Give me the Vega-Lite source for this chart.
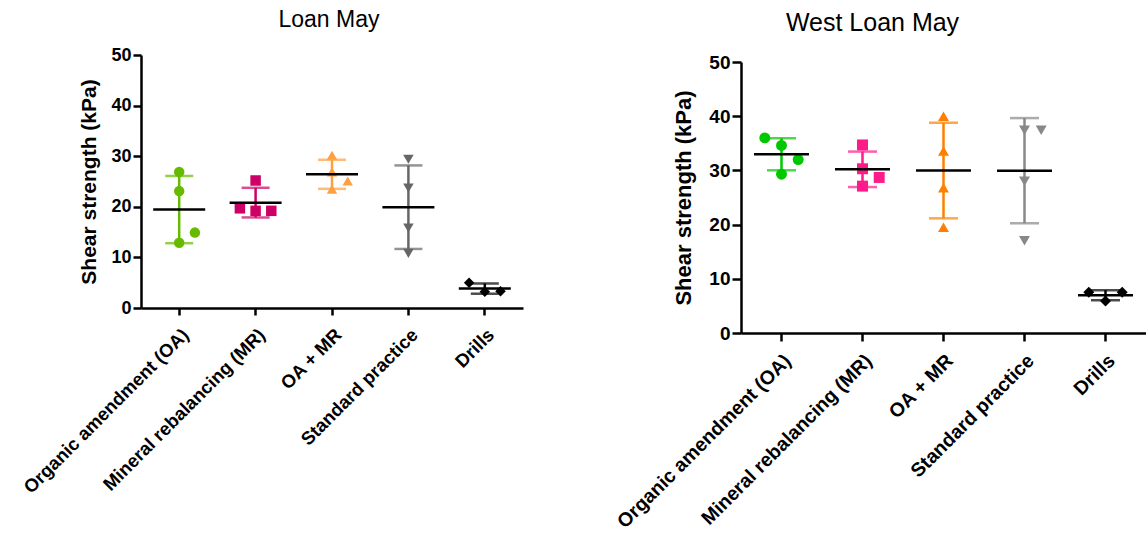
{
  "$schema": "https://vega.github.io/schema/vega-lite/v6.json",
  "background": "white",
  "padding": {"left": 20, "top": 9, "right": 0, "bottom": 0},
  "spacing": 90,
  "resolve": {"scale": {"color": "independent", "xOffset": "independent"}},
  "config": {
    "font": "Liberation Sans",
    "view": {"stroke": null},
    "title": {"font": "Liberation Sans", "fontWeight": "normal", "fontSize": 23, "color": "black"},
    "axis": {
      "domainColor": "black", "domainWidth": 2.5, "tickColor": "black", "tickWidth": 2.5,
      "grid": false, "labelColor": "black", "titleColor": "black", "labelLimit": 0,
      "labelFont": "Liberation Sans", "titleFont": "Liberation Sans",
      "labelFontWeight": "bold", "titleFontWeight": "bold"
    }
  },
  "datasets": {
    "loan": [
      {"group": "Organic amendment (OA)", "lane": "C", "value": 26.9},
      {"group": "Organic amendment (OA)", "lane": "C", "value": 23.1},
      {"group": "Organic amendment (OA)", "lane": "R", "value": 14.9},
      {"group": "Organic amendment (OA)", "lane": "C", "value": 12.9},
      {"group": "Mineral rebalancing (MR)", "lane": "C", "value": 25.2},
      {"group": "Mineral rebalancing (MR)", "lane": "L", "value": 19.7},
      {"group": "Mineral rebalancing (MR)", "lane": "C", "value": 19.2},
      {"group": "Mineral rebalancing (MR)", "lane": "R", "value": 19.2},
      {"group": "OA + MR", "lane": "C", "value": 30.2},
      {"group": "OA + MR", "lane": "C", "value": 26.9},
      {"group": "OA + MR", "lane": "R", "value": 25.1},
      {"group": "OA + MR", "lane": "C", "value": 23.5},
      {"group": "Standard practice", "lane": "C", "value": 29.4},
      {"group": "Standard practice", "lane": "C", "value": 23.7},
      {"group": "Standard practice", "lane": "C", "value": 15.8},
      {"group": "Standard practice", "lane": "C", "value": 10.8},
      {"group": "Drills", "lane": "L", "value": 5.0},
      {"group": "Drills", "lane": "C", "value": 3.2},
      {"group": "Drills", "lane": "R", "value": 3.3}
    ],
    "west": [
      {"group": "Organic amendment (OA)", "lane": "L", "value": 36.0},
      {"group": "Organic amendment (OA)", "lane": "C", "value": 34.6},
      {"group": "Organic amendment (OA)", "lane": "R", "value": 32.0},
      {"group": "Organic amendment (OA)", "lane": "C", "value": 29.3},
      {"group": "Mineral rebalancing (MR)", "lane": "C", "value": 34.7},
      {"group": "Mineral rebalancing (MR)", "lane": "C", "value": 30.3},
      {"group": "Mineral rebalancing (MR)", "lane": "R", "value": 28.7},
      {"group": "Mineral rebalancing (MR)", "lane": "C", "value": 27.1},
      {"group": "OA + MR", "lane": "C", "value": 40.0},
      {"group": "OA + MR", "lane": "C", "value": 33.6},
      {"group": "OA + MR", "lane": "C", "value": 26.8},
      {"group": "OA + MR", "lane": "C", "value": 19.5},
      {"group": "Standard practice", "lane": "C", "value": 37.4},
      {"group": "Standard practice", "lane": "R", "value": 37.4},
      {"group": "Standard practice", "lane": "C", "value": 28.0},
      {"group": "Standard practice", "lane": "C", "value": 17.0},
      {"group": "Drills", "lane": "L", "value": 7.5},
      {"group": "Drills", "lane": "R", "value": 7.5},
      {"group": "Drills", "lane": "C", "value": 5.9}
    ]
  },
  "hconcat": [
    {
      "title": {"text": "Loan May", "offset": 14, "dx": -3},
      "width": 382,
      "height": 253,
      "data": {"name": "loan"},
      "encoding": {
        "x": {
          "field": "group", "type": "nominal", "sort": null, "title": null,
          "scale": {"type": "band", "paddingInner": 0, "paddingOuter": 0},
          "axis": {"labelAngle": -45, "labelAlign": "right", "labelBaseline": "top", "labelFontSize": 18.5, "tickSize": 7, "labelPadding": 10}
        },
        "y": {
          "field": "value", "type": "quantitative",
          "title": "Shear strength (kPa)",
          "scale": {"domain": [0, 50], "nice": false, "zero": true},
          "axis": {"values": [0, 10, 20, 30, 40, 50], "labelFontSize": 18, "titleFontSize": 21, "tickSize": 8, "labelPadding": 2, "titlePadding": 11}
        },
        "color": {
          "field": "group", "type": "nominal", "legend": null,
          "scale": {
            "domain": ["Organic amendment (OA)", "Mineral rebalancing (MR)", "OA + MR", "Standard practice", "Drills"],
            "range": ["#66BB00", "#CC0066", "#FFA040", "#666666", "#000000"]
          }
        }
      },
      "layer": [
        {
          "mark": {"type": "point", "filled": true, "opacity": 1, "size": 110},
          "encoding": {
            "shape": {
              "field": "group", "type": "nominal", "legend": null,
              "scale": {
                "domain": ["Organic amendment (OA)", "Mineral rebalancing (MR)", "OA + MR", "Standard practice", "Drills"],
                "range": ["circle", "square", "triangle-up", "triangle-down", "diamond"]
              }
            },
            "xOffset": {"field": "lane", "type": "nominal", "scale": {"type": "point", "domain": ["L", "C", "R"], "range": [22.5, 53.9], "padding": 0}}
          }
        },
        {
          "mark": {"type": "errorbar", "extent": "stdev", "thickness": 2.5, "ticks": {"size": 28, "thickness": 2.5}}
        },
        {
          "mark": {"type": "tick", "orient": "horizontal", "size": 52, "thickness": 2.5, "color": "black"},
          "encoding": {"y": {"aggregate": "mean", "field": "value", "type": "quantitative"}, "color": {"value": "black"}}
        }
      ]
    },
    {
      "title": {"text": "West Loan May", "offset": 17, "fontSize": 25, "dx": -71},
      "width": 405,
      "height": 278,
      "data": {"name": "west"},
      "encoding": {
        "x": {
          "field": "group", "type": "nominal", "sort": null, "title": null,
          "scale": {"type": "band", "paddingInner": 0, "paddingOuter": 0},
          "axis": {"labelAngle": -45, "labelAlign": "right", "labelBaseline": "top", "labelFontSize": 19.5, "tickSize": 8, "labelPadding": 10}
        },
        "y": {
          "field": "value", "type": "quantitative",
          "title": "Shear strength (kPa)",
          "scale": {"domain": [0, 50], "nice": false, "zero": true, "range": [278, 7]},
          "axis": {"values": [0, 10, 20, 30, 40, 50], "labelFontSize": 19, "titleFontSize": 22, "tickSize": 9, "labelPadding": 2, "titlePadding": 13}
        },
        "color": {
          "field": "group", "type": "nominal", "legend": null,
          "scale": {
            "domain": ["Organic amendment (OA)", "Mineral rebalancing (MR)", "OA + MR", "Standard practice", "Drills"],
            "range": ["#00C800", "#FF1A8C", "#FF8000", "#888888", "#000000"]
          }
        }
      },
      "layer": [
        {
          "mark": {"type": "point", "filled": true, "opacity": 1, "size": 120},
          "encoding": {
            "shape": {
              "field": "group", "type": "nominal", "legend": null,
              "scale": {
                "domain": ["Organic amendment (OA)", "Mineral rebalancing (MR)", "OA + MR", "Standard practice", "Drills"],
                "range": ["circle", "square", "triangle-up", "triangle-down", "diamond"]
              }
            },
            "xOffset": {"field": "lane", "type": "nominal", "scale": {"type": "point", "domain": ["L", "C", "R"], "range": [23.8, 57.2], "padding": 0}}
          }
        },
        {
          "mark": {"type": "errorbar", "extent": "stdev", "thickness": 2.5, "ticks": {"size": 29, "thickness": 2.5}}
        },
        {
          "mark": {"type": "tick", "orient": "horizontal", "size": 55, "thickness": 2.5, "color": "black"},
          "encoding": {"y": {"aggregate": "mean", "field": "value", "type": "quantitative"}, "color": {"value": "black"}}
        }
      ]
    }
  ]
}
